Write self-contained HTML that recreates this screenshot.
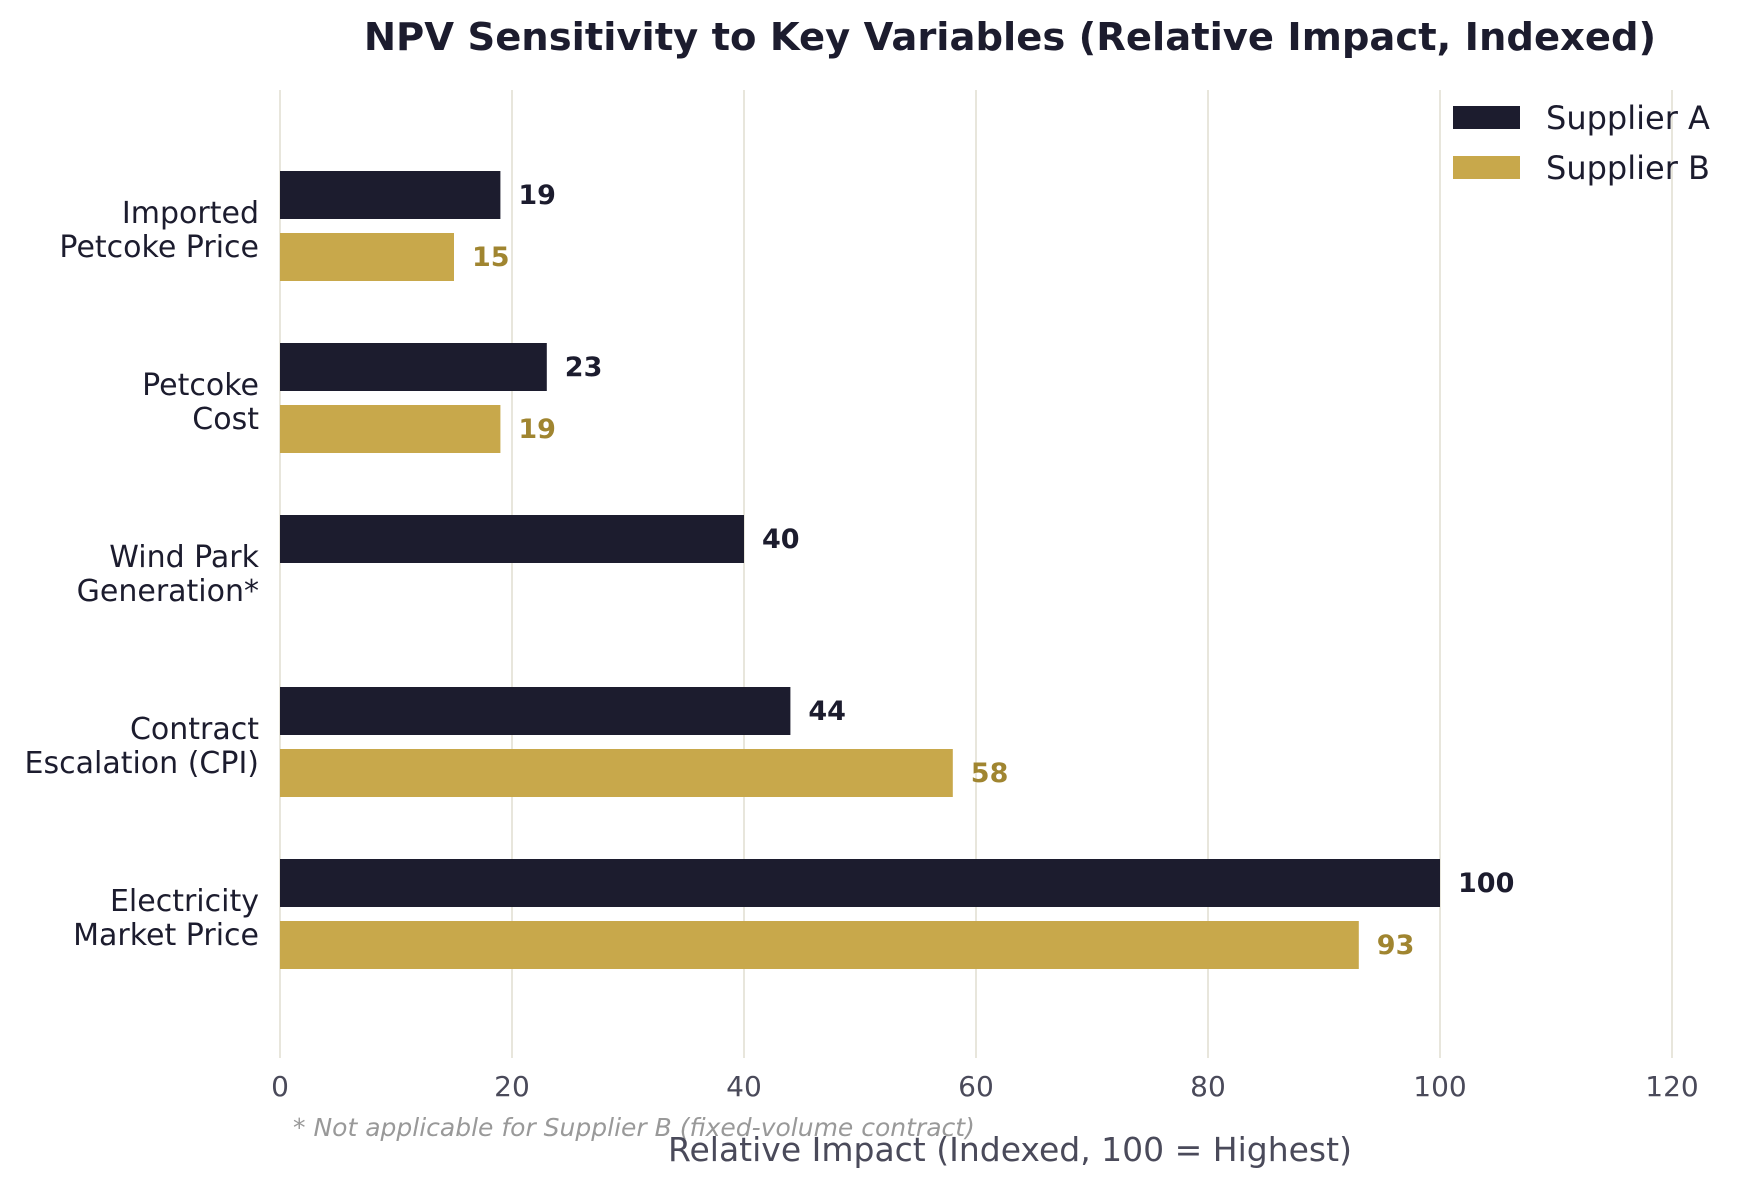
<!DOCTYPE html>
<html><head><meta charset="utf-8"><style>
html,body{margin:0;padding:0;background:#fff}
svg text{font-family:"DejaVu Sans","Liberation Sans",sans-serif}
</style></head><body>
<svg id="chart" width="1750" height="1187" viewBox="0 0 1750 1187" xmlns="http://www.w3.org/2000/svg">
<text x="1010" y="50" text-anchor="middle" font-size="38.5" font-weight="bold" fill="#1c1c2e">NPV Sensitivity to Key Variables (Relative Impact, Indexed)</text>
<g id="grid"></g><g id="bars"></g><g id="ylabels"></g><g id="xticks"></g>
<g>
<rect x="1463" y="106" width="67" height="23" fill="#1c1c2e" transform="translate(-10,0)"/>
<text x="1546" y="129" font-size="32" fill="#1c1c2e">Supplier A</text>
<rect x="1453" y="156" width="67" height="23" fill="#c8a84b"/>
<text x="1546" y="179" font-size="32" fill="#1c1c2e">Supplier B</text>
</g>
<text x="293" y="1136" font-size="25" font-style="italic" fill="#999">* Not applicable for Supplier B (fixed-volume contract)</text>
<text x="1010" y="1161" text-anchor="middle" font-size="33" fill="#4a4a5a">Relative Impact (Indexed, 100 = Highest)</text>
</svg>
<script>
const categories = [["Imported","Petcoke Price"],["Petcoke","Cost"],["Wind Park","Generation*"],["Contract","Escalation (CPI)"],["Electricity","Market Price"]];
const supplierA = [19,23,40,44,100];
const supplierB = [15,19,null,58,93];
const xTicks = [0,20,40,60,80,100,120];
const NS="http://www.w3.org/2000/svg";
const X0=280, XU=11.6, TOP=171, STEP=172, BH=48, GAP=62;
const xs=v=>X0+v*XU;
function mk(tag,attrs,parent,text){const e=document.createElementNS(NS,tag);for(const k in attrs)e.setAttribute(k,attrs[k]);if(text!==undefined)e.textContent=text;parent.appendChild(e);return e;}
const grid=document.getElementById('grid'),bars=document.getElementById('bars'),yl=document.getElementById('ylabels'),xt=document.getElementById('xticks');
xTicks.forEach(t=>{
  const l=mk('line',{x1:xs(t),x2:xs(t),y1:90,y2:1058,stroke:'#e8e6dc','stroke-width':2},grid);
  
  
  const tx=mk('text',{x:xs(t),y:1096,'text-anchor':'middle','font-size':28,fill:'#4a4a5a'},xt,String(t));
  
  
});
categories.forEach((c,i)=>{
  const yA=TOP+i*STEP, yB=yA+GAP;
  const g=mk('text',{x:259,'text-anchor':'end','font-size':30,fill:'#1c1c2e'},yl);
  
  
  mk('tspan',{x:259,y:yA+52},g,c[0]);
  mk('tspan',{x:259,y:yA+86},g,c[1]);
  if(supplierA[i]!=null){
    const r=mk('rect',{x:X0,y:yA,width:supplierA[i]*XU,height:BH,fill:'#1c1c2e'},bars);
    
    
    const t=mk('text',{x:xs(supplierA[i])+18,y:yA+33,'font-size':27,'font-weight':'bold',fill:'#1c1c2e'},bars,String(supplierA[i]));
    
    
  }
  if(supplierB[i]!=null){
    const r=mk('rect',{x:X0,y:yB,width:supplierB[i]*XU,height:BH,fill:'#c8a84b'},bars);
    
    
    const t=mk('text',{x:xs(supplierB[i])+18,y:yB+33,'font-size':27,'font-weight':'bold',fill:'#a08530'},bars,String(supplierB[i]));
    
    
  }
});
</script>
</body></html>
